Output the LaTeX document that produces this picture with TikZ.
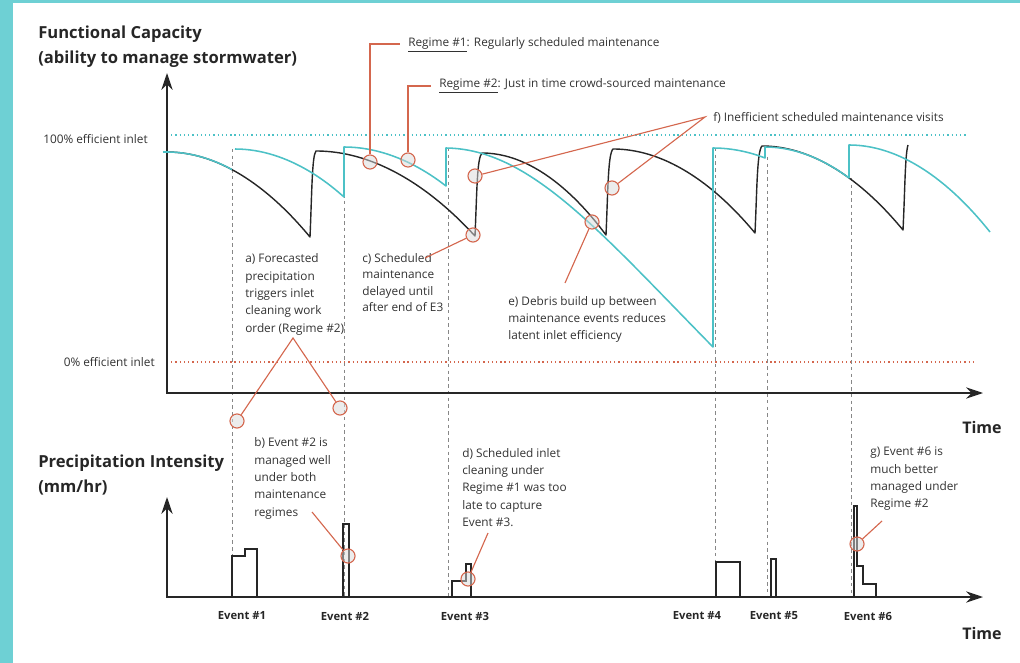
\documentclass[tikz,border=0pt]{standalone}
\usepackage{fontspec}
\setmainfont{Open Sans}
\usepackage{tikz}
\usetikzlibrary{arrows.meta}

\definecolor{framecyan}{RGB}{110,208,212}
\definecolor{regcyan}{RGB}{76,193,198}
\definecolor{leaderred}{RGB}{212,103,78}
\definecolor{eventgray}{RGB}{135,135,135}
\definecolor{inkgray}{RGB}{50,50,50}

\tikzset{
  headtext/.style={anchor=west, align=left, inner sep=0pt, text=black!85,
    font=\fontsize{11.8}{17.7}\selectfont\bfseries},
  notetext/.style={anchor=west, align=left, inner sep=0pt, text=inkgray,
    font=\fontsize{8.4}{12.3}\selectfont},
  evlabel/.style={inner sep=0pt, text=black!85, font=\fontsize{8}{10}\selectfont\bfseries},
  timelabel/.style={inner sep=0pt, text=black!85, font=\fontsize{11.4}{14}\selectfont\bfseries},
  axisline/.style={line width=1.1pt, black!85,
    {Stealth[length=12pt,width=8pt]}-{Stealth[length=12pt,width=8pt]}},
  regone/.style={line width=1pt, black!85, line join=round},
  regtwo/.style={line width=1.1pt, regcyan, line join=round},
  eventline/.style={line width=0.7pt, eventgray, dash pattern=on 2.4pt off 2.4pt},
  rainbar/.style={line width=0.9pt, black!85},
  leader/.style={line width=0.8pt, leaderred},
  ringmark/.style={circle, draw=leaderred, line width=0.8pt, fill=gray!30,
    fill opacity=0.5, minimum size=10pt, inner sep=0pt},
}

\begin{document}
\begin{tikzpicture}[x=0.025cm, y=-0.025cm]
  \useasboundingbox (0,0) rectangle (1020,663);
  % frame strips
  \fill[framecyan] (0,0) rectangle (13,663);
  \fill[framecyan] (0,0) rectangle (1020,3);

  % efficiency limits
  \draw[regcyan, line width=0.9pt, dash pattern=on 0.9pt off 2.1pt] (167,135) -- (968,135);
  \draw[leaderred, line width=0.9pt, dash pattern=on 0.9pt off 2.1pt] (167,362) -- (973,362);

  % event lines
  \foreach \x/\ytop in {232/149, 344/147, 448/148, 715/148, 767/157, 851/178}
    \draw[eventline] (\x,\ytop) -- (\x,597);

  % axes
  \draw[axisline] (167,73) |- (983,393);
  \draw[axisline] (167,497) |- (983,597);

  % regime #1 (scheduled)
  \draw[regone] (167,152) parabola (310,237) .. controls (312,190) and (312,156) .. (316,151)
    parabola (475,236) .. controls (477,190) and (477,158) .. (482,153)
    parabola (606,235) .. controls (608,190) and (608,154) .. (613,149)
    parabola (755,233) .. controls (757,190) and (757,151) .. (762,146)
    parabola (903,230) .. controls (905,190) and (905,155) .. (908,145);
  % regime #2 (crowd-sourced)
  \draw[regtwo] (163,152) -- (167,152) parabola (232,169.6)
    (235,149) parabola (344,197) -- (344,147) parabola (446,186) -- (446,148)
    .. controls (530,149) and (600,232) .. (713,347) -- (713,148) parabola (765,158)
    -- (765,147) parabola (849,178) -- (849,145) parabola (990,232);

  % precipitation events
  \draw[rainbar] (232,597) |- (245,556) |- (257,549) -- (257,597);
  \draw[rainbar] (343,597) |- (349,524) -- (349,597);
  \draw[rainbar] (452,597) |- (466,581) |- (471,564) -- (471,597);
  \draw[rainbar] (716,597) |- (740,562) -- (740,597);
  \draw[rainbar] (771,597) |- (776,559) -- (776,597);
  \draw[rainbar] (854,597) |- (857,506) |- (863,566) |- (876,584) -- (876,597);

  % titles and labels
  \node[headtext] (captitle) at (38,47) {Functional Capacity\\(ability to manage stormwater)};
  \node[headtext] (raintitle) at (38,475) {Precipitation Intensity\\(mm/hr)};
  \node[notetext, anchor=east] (fullcap) at (148,139) {100\% efficient inlet};
  \node[notetext, anchor=east] (zerocap) at (155,362) {0\% efficient inlet};
  \node[timelabel] (timetop) at (982,427) {Time};
  \node[timelabel] (timebot) at (982,633) {Time};
  \foreach \x/\n in {242/1, 345/2, 465/3, 697/4, 774/5, 868/6}
    \node[evlabel] (ev\n) at (\x,616) {Event \#\n};

  % notes
  \node[notetext] (r1text) at (408,45) {\underline{Regime \#1}: Regularly scheduled maintenance};
  \node[notetext] (r2text) at (439,86) {\underline{Regime \#2}: Just in time crowd-sourced maintenance};
  \node[notetext] (ftext) at (713,118) {f) Inefficient scheduled maintenance visits};
  \node[notetext] (atext) at (245,294.5) {a) Forecasted\\precipitation\\triggers inlet\\cleaning work\\order (Regime \#2)};
  \node[notetext] (btext) at (254,478.5) {b) Event \#2 is\\managed well\\under both\\maintenance\\regimes};
  \node[notetext, font=\fontsize{8.4}{11.6}\selectfont] (ctext) at (362,282.5) {c) Scheduled\\maintenance\\delayed until\\after end of E3};
  \node[notetext] (dtext) at (462,487.5) {d) Scheduled inlet\\cleaning under\\Regime \#1 was too\\late to capture\\Event \#3.};
  \node[notetext] (etext) at (508,319.5) {e) Debris build up between\\maintenance events reduces\\latent inlet efficiency};
  \node[notetext] (gtext) at (870,479) {g) Event \#6 is\\much better\\managed under\\Regime \#2};

  % markers
  \node[ringmark] (r1c) at (370,162) {};
  \node[ringmark] (r2c) at (408,160) {};
  \node[ringmark] (f1c) at (475,176) {};
  \node[ringmark] (f2c) at (612,188) {};
  \node[ringmark] (cc) at (473,235) {};
  \node[ringmark] (ec) at (592,222) {};
  \node[ringmark] (a1c) at (237,421) {};
  \node[ringmark] (a2c) at (340,408) {};
  \node[ringmark] (bc) at (348,556) {};
  \node[ringmark] (dc) at (468,579) {};
  \node[ringmark] (gc) at (857,544) {};

  % leader lines
  \coordinate (r1k) at (400,44);
  \coordinate (r2k) at (431,86);
  \coordinate (fk) at (705,117);
  \coordinate (ak) at (293,338);
  \coordinate (bk) at (312,512);
  \coordinate (ck) at (425,258);
  \coordinate (dk) at (488,533);
  \coordinate (ek) at (565,283);
  \coordinate (gk) at (882,521);
  \draw[leader] (r1c) |- (r1k);
  \draw[leader] (r2c) |- (r2k);
  \draw[leader] (f1c) -- (fk) -- (f2c);
  \draw[leader] (a1c) -- (ak) -- (a2c);
  \draw[leader] (bk) -- (bc);
  \draw[leader] (ck) -- (cc);
  \draw[leader] (dk) -- (dc);
  \draw[leader] (ek) -- (ec);
  \draw[leader] (gk) -- (gc);
\end{tikzpicture}
\end{document}
